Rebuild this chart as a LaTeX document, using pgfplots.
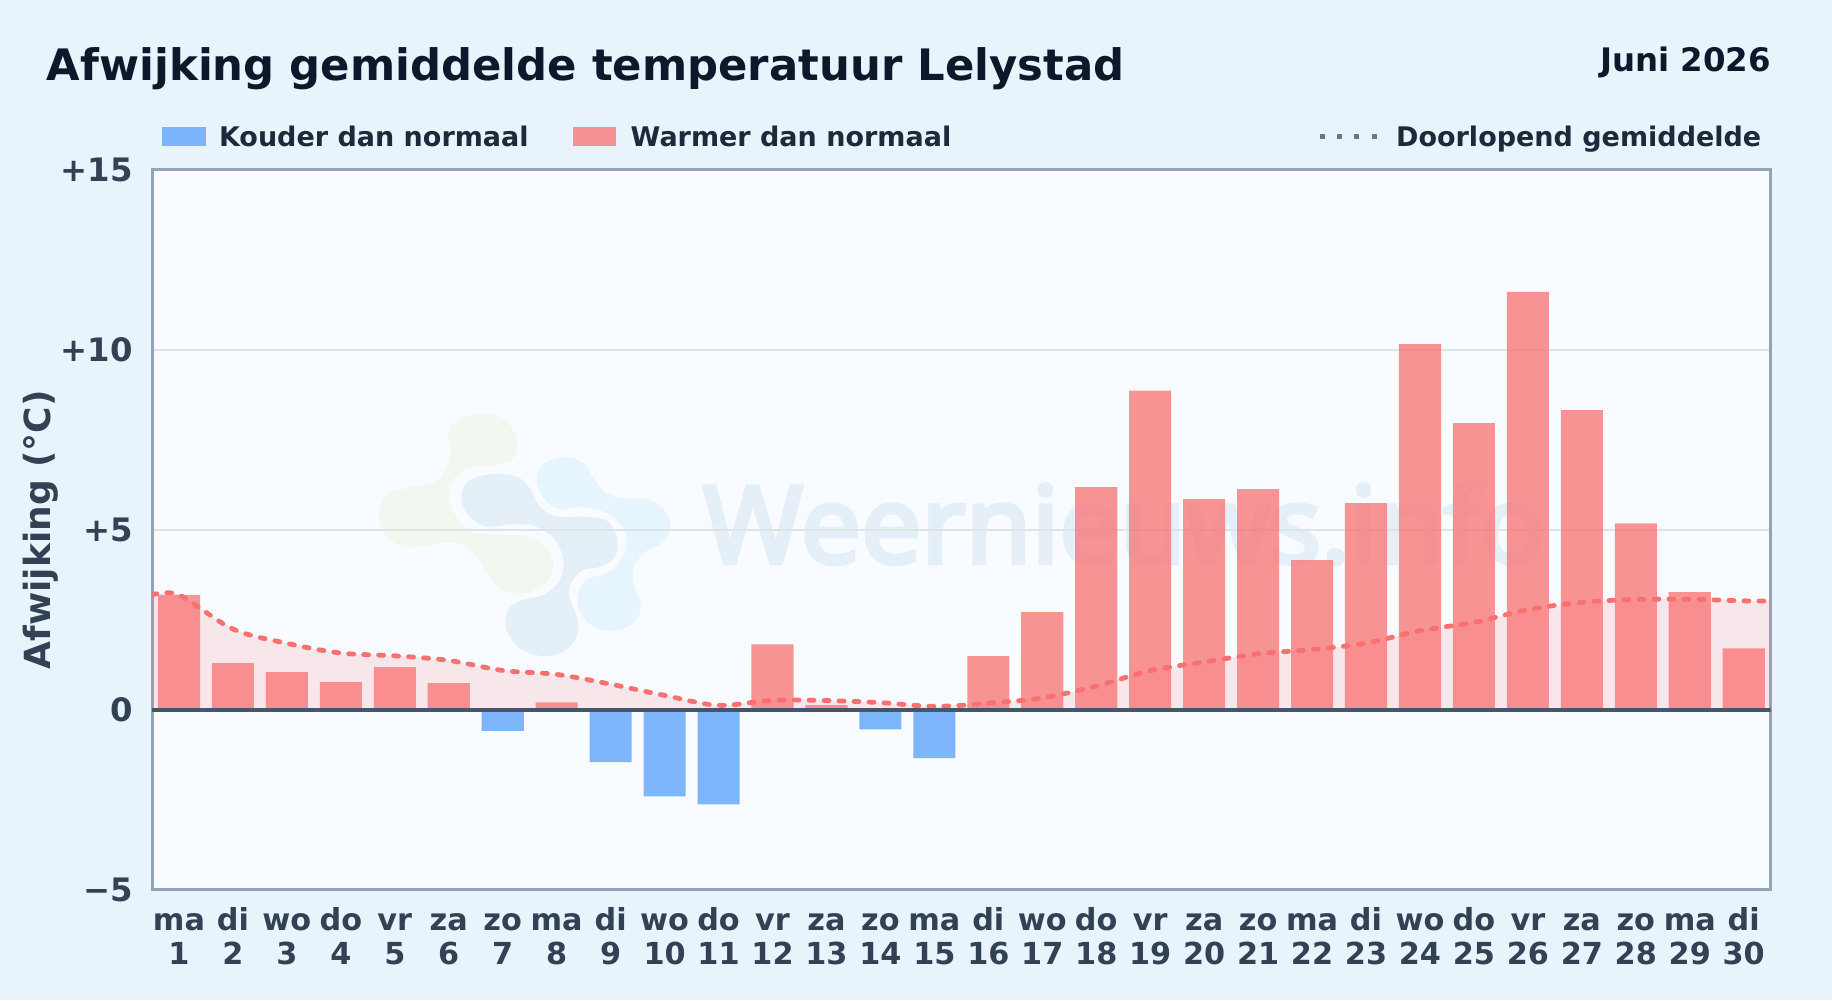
\documentclass[border=0pt]{standalone}
\usepackage{pgfplots}
\pgfplotsset{compat=1.18}
\usepackage{fontspec}
\setmainfont{DejaVu Sans}
\newfontfamily\wmfont[FakeBold=4]{Noto Sans}
\definecolor{pagebg}{HTML}{E8F3FC}
\definecolor{plotbg}{HTML}{F8FBFF}
\definecolor{frameC}{HTML}{94A3B8}
\definecolor{gridC}{HTML}{DDE4E6}
\definecolor{zeroC}{HTML}{475569}
\definecolor{tickC}{HTML}{334155}
\definecolor{titleC}{HTML}{0F172A}
\definecolor{legC}{HTML}{1E293B}
\definecolor{warm}{HTML}{F87171}
\definecolor{cold}{HTML}{60A5FA}
\definecolor{wmG}{HTML}{F2F8F0}
\definecolor{wmB}{HTML}{E5EFF8}
\definecolor{wmL}{HTML}{E6F4FE}
\newcommand{\xl}[2]{\strut #1\\\strut #2}
\begin{document}
\begin{tikzpicture}[x=1bp,y=1bp]
\path[use as bounding box,fill=pagebg] (0,0) rectangle (1832,1000);
\fill[plotbg] (152,110) rectangle (1770.7,830.5);
% watermark
\begin{scope}[shift={(360bp,600bp)},x=0.33333bp,y=-0.33333bp]
\fill[wmG] plot[smooth cycle,tension=0.6] coordinates {(265,100)(300,55)(375,40)(440,65)(472,130)(455,180)(400,197)(340,200)(295,222)(270,260)(268,310)(300,365)(345,400)(420,405)(510,410)(560,445)(580,500)(555,550)(500,578)(440,575)(400,545)(370,500)(335,455)(290,430)(230,430)(160,443)(100,425)(62,375)(60,320)(90,280)(160,260)(225,245)(260,200)(272,150)};
\fill[wmL] plot[smooth cycle,tension=0.6] coordinates {(530,230)(560,185)(620,172)(670,190)(700,235)(740,280)(800,298)(870,300)(920,340)(930,390)(905,430)(850,460)(818,510)(825,565)(843,620)(820,670)(760,692)(700,680)(660,635)(655,585)(680,540)(750,515)(790,470)(800,420)(775,365)(720,330)(650,322)(590,325)(545,285)};
\fill[wmB] plot[smooth cycle,tension=0.6] coordinates {(305,280)(330,240)(400,222)(470,230)(510,265)(540,320)(590,350)(680,350)(745,365)(772,420)(765,470)(720,500)(670,510)(635,545)(628,590)(650,650)(650,710)(610,755)(545,768)(480,745)(440,690)(445,630)(490,600)(550,585)(600,540)(610,480)(585,420)(530,380)(460,372)(380,380)(330,350)(308,315)};
\end{scope}
\node[anchor=base west,inner sep=0pt,text=wmB] at (703,437) {\wmfont\fontsize{107bp}{108bp}\selectfont Weernieuws.info};
\begin{axis}[
  at={(152bp,110bp)},anchor=south west,scale only axis,
  width=1618.7bp,height=720.5bp,
  xmin=0.5,xmax=30.5,ymin=-5,ymax=15,
  axis line style={draw=frameC,line width=3bp},
  major tick length=0pt,
  ymajorgrids,grid style={draw=gridC,line width=2bp},
  ytick={-5,0,5,10,15},
  yticklabels={−5,0,+5,+10,+15},
  xtick={1,...,30},
  xticklabels={{\xl{ma}{1}},{\xl{di}{2}},{\xl{wo}{3}},{\xl{do}{4}},{\xl{vr}{5}},{\xl{za}{6}},{\xl{zo}{7}},{\xl{ma}{8}},{\xl{di}{9}},{\xl{wo}{10}},{\xl{do}{11}},{\xl{vr}{12}},{\xl{za}{13}},{\xl{zo}{14}},{\xl{ma}{15}},{\xl{di}{16}},{\xl{wo}{17}},{\xl{do}{18}},{\xl{vr}{19}},{\xl{za}{20}},{\xl{zo}{21}},{\xl{ma}{22}},{\xl{di}{23}},{\xl{wo}{24}},{\xl{do}{25}},{\xl{vr}{26}},{\xl{za}{27}},{\xl{zo}{28}},{\xl{ma}{29}},{\xl{di}{30}}},
  xticklabel style={align=center,text=tickC,inner sep=0pt,yshift=-16.5bp,font=\bfseries\fontsize{30.3bp}{34bp}\selectfont},
  yticklabel style={text=tickC,inner sep=0pt,xshift=-19bp,font=\bfseries\fontsize{32.3bp}{36bp}\selectfont},
  ylabel={Afwijking (°C)},
  every axis y label/.style={at={(axis description cs:-0.0685,0.5)},rotate=90,anchor=center,text=tickC,inner sep=0pt,font=\bfseries\fontsize{36bp}{40bp}\selectfont},
  title={Afwijking gemiddelde temperatuur Lelystad},
  title style={at={(axis description cs:-0.065,1.1155)},anchor=base west,inner sep=0pt,text=titleC,font=\bfseries\fontsize{43.35bp}{48bp}\selectfont},
  legend columns=3,
  legend cell align=left,
  legend style={at={(axis description cs:0.00618,1.0451)},anchor=west,draw=none,fill=none,inner sep=0pt,outer sep=0pt,
    text=legC,font=\bfseries\fontsize{27bp}{30bp}\selectfont,
    nodes={inner sep=0pt},
    /tikz/column 1/.style={column sep=13bp},
    /tikz/column 2/.style={column sep=44.5bp},
    /tikz/column 3/.style={column sep=14.5bp},
    /tikz/column 4/.style={column sep=366bp},
    /tikz/column 5/.style={column sep=17bp}},
]
\addplot[forget plot,draw=none,fill=warm,fill opacity=0.14,smooth,tension=0.55] coordinates {
(0.5,3.19)(1,3.19)(2,2.245)(3,1.847)(4,1.578)(5,1.50)(6,1.373)(7,1.094)(8,0.984)(9,0.713)(10,0.402)(11,0.127)(12,0.268)(13,0.258)(14,0.201)(15,0.098)(16,0.185)(17,0.334)(18,0.658)(19,1.09)(20,1.328)(21,1.557)(22,1.675)(23,1.852)(24,2.198)(25,2.428)(26,2.781)(27,2.986)(28,3.064)(29,3.071)(30,3.026)(30.5,3.02)} \closedcycle;
\addplot[ybar,bar width=0.78,bar shift=0pt,draw=none,fill=cold,fill opacity=0.8,
  legend image code/.code={\fill[cold,opacity=0.8] (0bp,-9.5bp) rectangle (44bp,9.5bp);}] coordinates {
(7,-0.58)(9,-1.45)(10,-2.40)(11,-2.62)(14,-0.54)(15,-1.34)};
\addlegendentry{Kouder dan normaal}
\addplot[ybar,bar width=0.78,bar shift=0pt,draw=none,fill=warm,fill opacity=0.75,
  legend image code/.code={\fill[warm,opacity=0.75] (0bp,-9.5bp) rectangle (43bp,9.5bp);}] coordinates {
(1,3.19)(2,1.30)(3,1.05)(4,0.77)(5,1.19)(6,0.74)(8,0.21)(12,1.82)(13,0.13)(16,1.49)(17,2.71)(18,6.18)(19,8.86)(20,5.85)(21,6.13)(22,4.16)(23,5.74)(24,10.15)(25,7.96)(26,11.6)(27,8.32)(28,5.18)(29,3.27)(30,1.71)};
\addlegendentry{Warmer dan normaal}
\addplot[warm,line width=4.8bp,line cap=round,dash pattern=on 5bp off 10bp,smooth,tension=0.55,
  legend image code/.code={\draw[zeroC!80,line width=5bp,line cap=butt,dash pattern=on 5bp off 12.3bp] (0bp,0bp) -- (56.9bp,0bp);}] coordinates {
(0.5,3.19)(1,3.19)(2,2.245)(3,1.847)(4,1.578)(5,1.50)(6,1.373)(7,1.094)(8,0.984)(9,0.713)(10,0.402)(11,0.127)(12,0.268)(13,0.258)(14,0.201)(15,0.098)(16,0.185)(17,0.334)(18,0.658)(19,1.09)(20,1.328)(21,1.557)(22,1.675)(23,1.852)(24,2.198)(25,2.428)(26,2.781)(27,2.986)(28,3.064)(29,3.071)(30,3.026)(30.5,3.02)};
\addlegendentry{Doorlopend gemiddelde}
\addplot[forget plot,draw=zeroC,line width=4bp] coordinates {(0.5,0)(30.5,0)};
\end{axis}
\node[anchor=base east,inner sep=0pt,text=titleC,font=\bfseries\fontsize{32.4bp}{36bp}\selectfont] at (1771,928.5) {Juni 2026};
\end{tikzpicture}
\end{document}
